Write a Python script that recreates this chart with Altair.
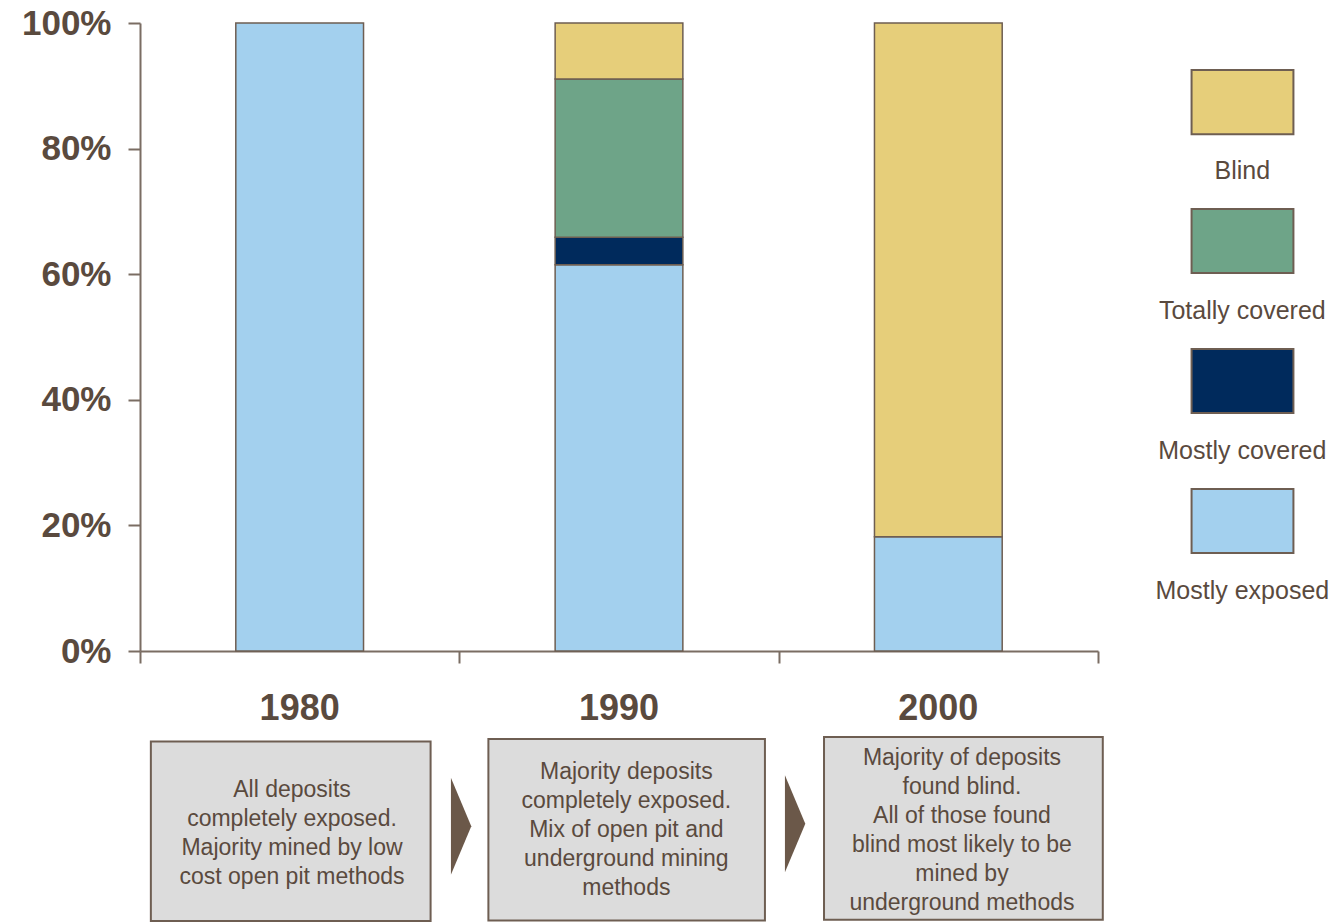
import altair as alt
import pandas as pd

# ---------------- data ----------------
years = ["1980", "1990", "2000"]
# stacking order, bottom to top
categories = ["Mostly exposed", "Mostly covered", "Totally covered", "Blind"]
mostly_exposed = [100.0, 61.5, 18.2]
mostly_covered = [0.0, 4.4, 0.0]
totally_covered = [0.0, 25.2, 0.0]
blind = [0.0, 8.9, 81.8]
y_ticks = [0, 20, 40, 60, 80, 100]
x_ticks = [0, 1, 2, 3]
notes = [
    "All deposits\ncompletely exposed.\nMajority mined by low\ncost open pit methods",
    "Majority deposits\ncompletely exposed.\nMix of open pit and\nunderground mining\nmethods",
    "Majority of deposits\nfound blind.\nAll of those found\nblind most likely to be\nmined by\nunderground methods",
]
legend_order = ["Blind", "Totally covered", "Mostly covered", "Mostly exposed"]

# ---------------- styles ----------------
colors = ["#A3D0EE", "#002A5C", "#6EA488", "#E6CE7A"]
EDGE = "#6E5E52"
TEXT = "#5A4A3E"
AXIS = "#7A6D63"
BOXFILL = "#DCDCDC"
ARROW = "#6B5849"
FONT = "Liberation Sans"

# ---------------- layout (data units) ----------------
BAR_HALF = 0.2
YEAR_Y = -9.2
box_x0 = [0.034, 1.091, 2.142]
box_x1 = [0.910, 1.957, 3.015]
box_top = [-14.4, -14.0, -13.7]
box_bot = [-43.0, -42.9, -42.8]
note_x = [0.476, 1.523, 2.574]
note_y = [-22.1, -19.3, -17.1]   # first line of each note
arrow_x = [1.004, 2.050]
arrow_y = [-27.9, -27.5]
leg_x0, leg_x1, leg_xc = 3.293, 3.612, 3.452
leg_top = [92.5, 70.4, 48.1, 25.8]
leg_bot = [82.3, 60.2, 37.9, 15.6]
leg_lab = [76.4, 54.1, 31.8, 9.6]

# ---------------- tables ----------------
series = [mostly_exposed, mostly_covered, totally_covered, blind]
rows = []
for i, yr in enumerate(years):
    cum = 0.0
    for cat, vals in zip(categories, series):
        v = vals[i]
        if v > 0:
            rows.append(dict(year=yr, category=cat, x=i + 0.5 - BAR_HALF,
                             x2=i + 0.5 + BAR_HALF, y0=cum, y1=cum + v))
            cum += v
bars_df = pd.DataFrame(rows)
years_df = pd.DataFrame(dict(year=years, x=[i + 0.5 for i in range(len(years))],
                             y=[YEAR_Y] * len(years)))
boxes_df = pd.DataFrame(dict(x=box_x0, x2=box_x1, y=box_top, y2=box_bot))
notes_df = pd.DataFrame(dict(note=notes, x=note_x, y=note_y))
arrows_df = pd.DataFrame(dict(x=arrow_x, y=arrow_y))
leg_df = pd.DataFrame(dict(category=legend_order, x=[leg_x0] * 4, x2=[leg_x1] * 4,
                           y=leg_top, y2=leg_bot, xc=[leg_xc] * 4, yl=leg_lab))

xs = alt.Scale(domain=[0, 3], nice=False, zero=False)
ys = alt.Scale(domain=[0, 100], nice=False, zero=False)
cs = alt.Scale(domain=categories, range=colors)

bars = alt.Chart(bars_df).mark_rect(stroke=EDGE, strokeWidth=1.5).encode(
    x=alt.X("x:Q", scale=xs, title=None,
            axis=alt.Axis(values=x_ticks, labels=False, grid=False, tickSize=12,
                          title=None)),
    x2="x2:Q",
    y=alt.Y("y0:Q", scale=ys, title=None,
            axis=alt.Axis(values=y_ticks, labelExpr="datum.value + '%'", grid=False,
                          tickSize=12, labelPadding=17, title=None)),
    y2="y1:Q",
    color=alt.Color("category:N", scale=cs, legend=None),
)

year_text = alt.Chart(years_df).mark_text(
    font=FONT, fontSize=36, fontWeight="bold", color=TEXT, baseline="middle"
).encode(
    x=alt.X("x:Q", scale=xs, title=None),
    y=alt.Y("y:Q", scale=ys, title=None),
    text="year:N",
)

boxes = alt.Chart(boxes_df).mark_rect(fill=BOXFILL, stroke=EDGE, strokeWidth=2).encode(
    x=alt.X("x:Q", scale=xs, title=None), x2="x2:Q",
    y=alt.Y("y:Q", scale=ys, title=None), y2="y2:Q",
)

note_text = alt.Chart(notes_df).mark_text(
    font=FONT, fontSize=23, color=TEXT, baseline="middle", align="center",
    lineBreak="\n", lineHeight=29,
).encode(
    x=alt.X("x:Q", scale=xs, title=None),
    y=alt.Y("y:Q", scale=ys, title=None),
    text="note:N",
)

arrows = alt.Chart(arrows_df).mark_point(
    shape="M-0.2,-1L0.22,0L-0.2,1Z", size=9409, filled=True, color=ARROW,
    opacity=1, strokeWidth=0,
).encode(
    x=alt.X("x:Q", scale=xs, title=None),
    y=alt.Y("y:Q", scale=ys, title=None),
)

leg_rects = alt.Chart(leg_df).mark_rect(stroke=EDGE, strokeWidth=2).encode(
    x=alt.X("x:Q", scale=xs, title=None), x2="x2:Q",
    y=alt.Y("y:Q", scale=ys, title=None), y2="y2:Q",
    color=alt.Color("category:N", scale=cs, legend=None),
)

leg_text = alt.Chart(leg_df).mark_text(
    font=FONT, fontSize=25, color=TEXT, baseline="middle", align="center"
).encode(
    x=alt.X("xc:Q", scale=xs, title=None),
    y=alt.Y("yl:Q", scale=ys, title=None),
    text="category:N",
)

chart = alt.layer(
    bars, year_text, boxes, note_text, arrows, leg_rects, leg_text
).properties(
    width=958, height=628,
    padding={"left": 21, "top": 6, "right": 0, "bottom": 0},
).configure_view(stroke=None).configure_axis(
    labelFont=FONT, labelFontSize=35, labelFontWeight="bold", labelColor=TEXT,
    domainColor=AXIS, tickColor=AXIS, domainWidth=2, tickWidth=2,
)

chart.save("out.html", embed_options={"renderer": "svg", "actions": False})
